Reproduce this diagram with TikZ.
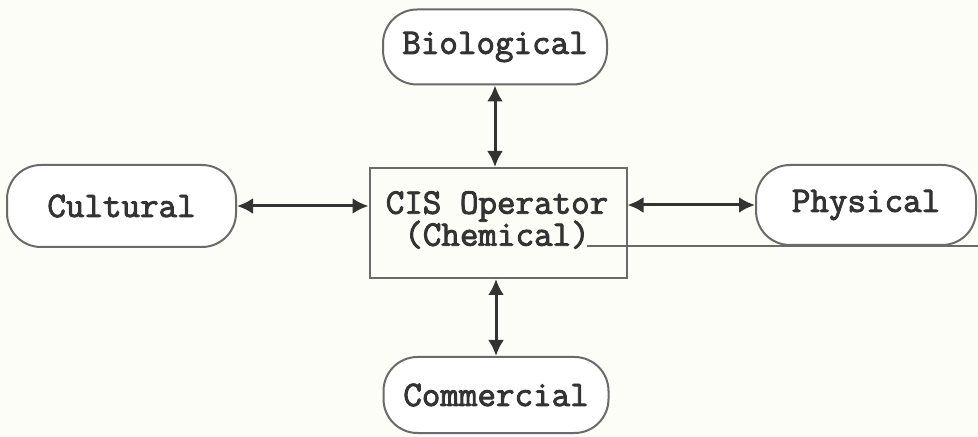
\documentclass[tikz,border=0pt]{standalone}
\usepackage{fontspec}
\newfontfamily\courfont{Latin Modern Mono}[FakeBold=2.5]
\usetikzlibrary{arrows.meta}
\definecolor{paper}{HTML}{FDFDF8}
\definecolor{ink}{HTML}{333333}
\definecolor{edge}{HTML}{6A6A6A}
\tikzset{
  oval/.style={draw=edge, line width=1pt, rounded corners=17pt, inner sep=0pt, fill=white,
    font=\fontsize{18}{16}\selectfont\courfont, text=ink},
  opbox/.style={draw=edge, line width=1pt, inner sep=0pt},
  lbl/.style={font=\fontsize{18}{16}\selectfont\courfont\setlength{\lineskiplimit}{-50pt}, text=ink, align=center, inner sep=0pt},
  link/.style={draw=ink, line width=1.5pt, {Latex[length=8pt,width=8pt]}-{Latex[length=8pt,width=8pt]}, shorten <=0pt, shorten >=0pt},
  rule/.style={draw=edge, line width=1pt}
}
\begin{document}
\begin{tikzpicture}[x=0.5pt,y=-0.5pt]
\useasboundingbox[fill=paper] (0,0) rectangle (978,437);
\node[oval, minimum width=112pt, minimum height=37.5pt] (bio) at (495,47) {Biological};
\node[oval, minimum width=114.5pt, minimum height=41pt] (cul) at (121.5,206) {Cultural};
\node[oval, minimum width=110pt, minimum height=40pt] (phy) at (866,205) {Physical};
\node[opbox, minimum width=128.5pt, minimum height=55pt] (cis) at (498,223) {};
\node[lbl] (cistext) at (497,220) {CIS Operator\\(Chemical)};
\node[oval, minimum width=112.5pt, minimum height=38pt] (com) at (496,395) {Commercial};
\coordinate (l1) at (587,246);
\coordinate (l2) at (978,246);
\draw[rule] (l1) -- (l2);
\draw[link] (cul.east) -- (cul.east -| cis.west);
\draw[link] (cis.east |- phy.west) -- (phy.west);
\draw[link] (bio.south) -- (bio.south |- cis.north);
\draw[link] (com.north |- cis.south) -- (com.north);
\end{tikzpicture}
\end{document}
